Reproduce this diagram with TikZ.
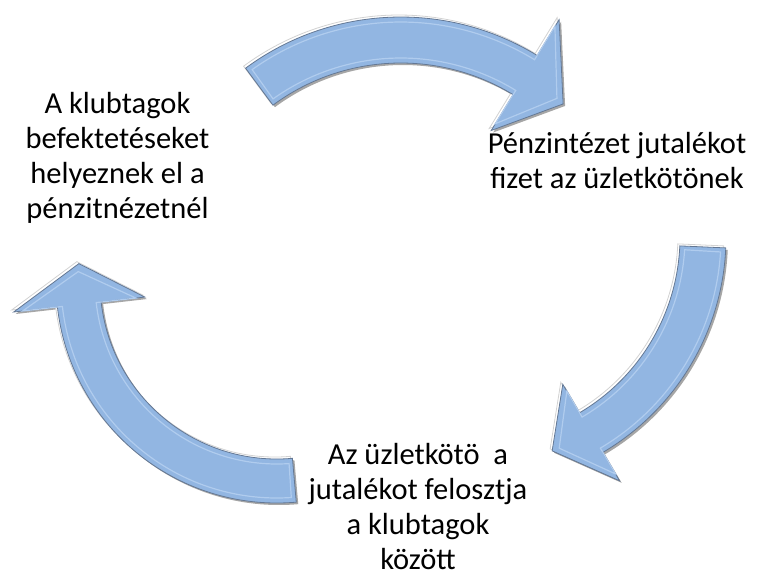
\documentclass[tikz,border=0pt]{standalone}
\usepackage{fontspec}
\setmainfont{Carlito}

\definecolor{arrowblue}{RGB}{146,182,226}
\definecolor{arrowlight}{RGB}{176,204,238}
\definecolor{arrowedge}{RGB}{100,120,148}

% curved block arrow: radius, half width, start angle, head angle, tip angle, head half width
\newcommand{\arrowbody}[6]{(#3:{#1+#2}) arc[start angle=#3, end angle=#4, radius={#1+#2}]
  -- (#4:{#1+#6}) -- (#5:#1) -- (#4:{#1-#6}) -- (#4:{#1-#2})
  arc[start angle=#4, end angle=#3, radius={#1-#2}] -- cycle}

\tikzset{
  shadowpart/.style={fill=gray!70, xshift=2, yshift=-2},
  lightpart/.style={fill=white, draw=gray!35, line width=0.8, xshift=-2, yshift=2},
  bodypart/.style={fill=arrowblue, draw=arrowedge, line width=0.8},
  innerpart/.style={draw=arrowlight, line width=1.2},
  steptext/.style={font=\fontsize{30.5}{35}\selectfont, align=center, inner sep=0}
}

\begin{document}
\begin{tikzpicture}[x=1pt, y=1pt]
            \useasboundingbox (0,0) rectangle (760,-578);

            % top arrow
            \begin{scope}[shift={(400.8,-278)}]
                \fill[shadowpart] \arrowbody{238}{23}{126.5}{58.5}{47}{65};
                \draw[lightpart] \arrowbody{238}{23}{126.5}{58.5}{47}{65};
                \draw[bodypart] \arrowbody{238}{23}{126.5}{58.5}{47}{65};
                \draw[innerpart] \arrowbody{238}{18}{125.5}{58.5}{49}{57};
            \end{scope}

            % right arrow
            \begin{scope}[shift={(476,-237)}]
                \fill[shadowpart] \arrowbody{227}{23}{-2.5}{-59.5}{-70.4}{56};
                \draw[lightpart] \arrowbody{227}{23}{-2.5}{-59.5}{-70.4}{56};
                \draw[bodypart] \arrowbody{227}{23}{-2.5}{-59.5}{-70.4}{56};
                \draw[innerpart] \arrowbody{227}{18}{-3.5}{-59.5}{-68.5}{48};
            \end{scope}

            % left arrow
            \begin{scope}[shift={(277,-282)}]
                \fill[shadowpart] \arrowbody{199}{22}{-85}{-173.5}{-185.3}{66};
                \draw[lightpart] \arrowbody{199}{22}{-85}{-173.5}{-185.3}{66};
                \draw[bodypart] \arrowbody{199}{22}{-85}{-173.5}{-185.3}{66};
                \draw[innerpart] \arrowbody{199}{17}{-86.2}{-173.5}{-183}{57};
            \end{scope}

            \node (invest) at (117.5,-157.5) [steptext] {A klubtagok\\befektetéseket\\helyeznek el a\\pénzitnézetnél};
            \node (fee) at (617,-161) [steptext] {Pénzintézet jutalékot\\fizet az üzletkötönek};
            \node (share) at (418,-507) [steptext] {Az üzletkötö\ \ a\\jutalékot felosztja\\a klubtagok\\között};
        \end{tikzpicture}
\end{document}
